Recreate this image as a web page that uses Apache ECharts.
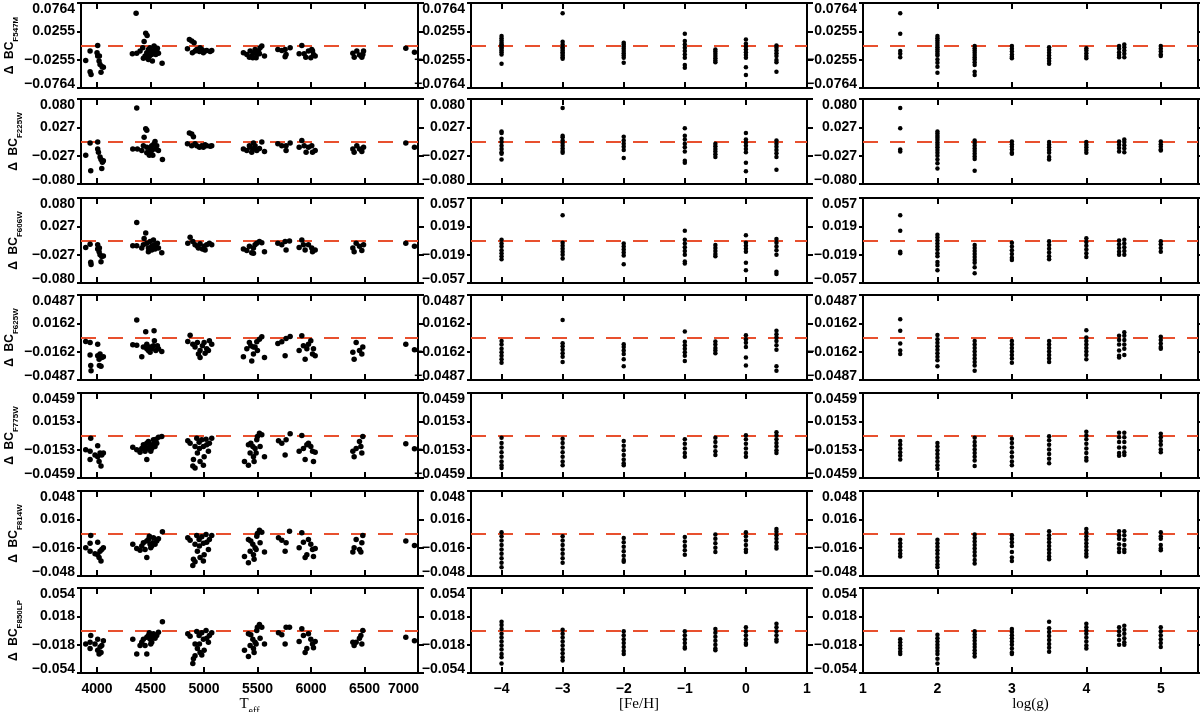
<!DOCTYPE html>
<html>
<head>
<meta charset="utf-8">
<title>Delta BC residuals</title>
<script src="https://cdn.jsdelivr.net/npm/echarts@6.0.0/dist/echarts.min.js"></script>
<style>
html, body { margin: 0; padding: 0; background: #fff; }
#chart { width: 1200px; height: 712px; }
</style>
</head>
<body>
<div id="chart"></div>
<script>
// filters, one row each
var filters = ['F547M', 'F225W', 'F606W', 'F625W', 'F775W', 'F814W', 'F850LP'];

// tick values of the three x axes
var teffTicks = [4000, 4500, 5000, 5500, 6000, 6500, 7000];
var fehTicks = [-4, -3, -2, -1, 0, 1];
var loggTicks = [1, 2, 3, 4, 5];
var teffRange = [3850, 7000];
var fehRange = [-4.5, 1];
var loggRange = [1, 5.5];

// y range (+/-) of each row, and digits of its tick labels
var yMaxTeff = [0.0764, 0.080, 0.080, 0.0487, 0.0459, 0.048, 0.054];
var yMaxOther = [0.0764, 0.080, 0.057, 0.0487, 0.0459, 0.048, 0.054];
var yDigits = [4, 3, 3, 4, 4, 3, 3];

// [Teff, delta BC] per filter
var teffF547M = [[3894,-0.027],[3935,-0.010],[3935,-0.047],[3944,-0.052],[4006,0.0],[4000,-0.013],[4006,-0.019],[4019,-0.028],[4028,-0.034],[4047,-0.038],[4037,-0.048],[4059,-0.039],[4022,-0.019],
	[4365,0.058],[4330,-0.015],[4371,-0.014],[4455,0.022],[4468,0.018],[4440,0.007],[4427,-0.004],[4402,-0.010],[4449,-0.019],[4465,-0.013],[4480,-0.007],[4496,-0.004],[4511,-0.016],[4527,-0.010],[4542,-0.004],[4558,-0.010],[4574,-0.014],[4517,-0.028],[4480,-0.025],[4433,-0.023],[4608,-0.032],[4533,-0.001],[4505,-0.010],[4490,-0.019],[4465,-0.022],[4549,-0.016],[4564,-0.005],
	[4863,0.011],[4885,0.008],[4907,0.005],[4845,-0.006],[4891,-0.013],[4932,-0.007],[4957,-0.011],[4979,-0.007],[4994,-0.013],[5025,-0.009],[5057,-0.011],[5072,-0.009],[4963,-0.004],[4917,-0.010],[5010,-0.010],
	[5368,-0.013],[5400,-0.016],[5431,-0.010],[5446,-0.019],[5462,-0.013],[5477,-0.007],[5493,-0.016],[5509,-0.010],[5524,-0.004],[5540,-0.001],[5565,-0.019],[5456,-0.022],[5424,-0.021],[5487,-0.022],[5518,-0.015],
	[5690,-0.007],[5727,-0.009],[5758,-0.007],[5767,-0.016],[5758,-0.020],[5805,-0.004],[5914,0.0],[5889,-0.015],[5936,-0.015],[5951,-0.021],[5976,-0.010],[6007,-0.007],[5998,-0.022],[6023,-0.016],[6039,-0.019],[6014,-0.010],
	[6391,-0.014],[6404,-0.021],[6428,-0.010],[6453,-0.017],[6475,-0.021],[6491,-0.010],[6484,-0.016],
	[6886,-0.005],[6967,-0.012]];
var teffF225W = [[3894,-0.026],[3935,-0.003],[3941,-0.055],[4006,-0.001],[4006,-0.014],[4013,-0.020],[4028,-0.029],[4037,-0.034],[4050,-0.039],[4044,-0.051],[4059,-0.036],
	[4371,0.063],[4455,0.024],[4465,0.021],[4440,0.008],[4334,-0.014],[4377,-0.014],[4418,-0.017],[4433,-0.008],[4465,-0.011],[4480,-0.020],[4496,-0.014],[4511,-0.008],[4521,-0.026],[4533,-0.004],[4546,-0.014],[4558,-0.008],[4574,-0.017],[4465,-0.021],[4611,-0.034],[4489,-0.026],[4542,0.0],[4511,-0.017],
	[4863,0.016],[4885,0.014],[4901,0.009],[4845,-0.004],[4885,-0.008],[4932,-0.008],[4957,-0.011],[4979,-0.008],[4994,-0.011],[5025,-0.008],[5057,-0.009],[5072,-0.008],[4916,-0.004],[5010,-0.006],
	[5368,-0.014],[5400,-0.017],[5431,-0.011],[5446,-0.020],[5462,-0.014],[5477,-0.008],[5493,-0.017],[5518,-0.013],[5540,-0.001],[5565,-0.019],[5424,-0.008],[5462,-0.003],
	[5690,-0.004],[5727,-0.008],[5767,-0.008],[5767,-0.017],[5805,-0.003],[5914,0.002],[5889,-0.011],[5936,-0.008],[5954,-0.020],[5976,-0.011],[6007,-0.008],[6014,-0.020],[6039,-0.017],
	[6391,-0.014],[6403,-0.020],[6428,-0.008],[6453,-0.014],[6475,-0.019],[6491,-0.011],
	[6886,-0.003],[6967,-0.011]];
var teffF606W = [[3894,-0.013],[3935,-0.007],[3941,-0.041],[3944,-0.045],[4006,-0.008],[4006,-0.016],[4019,-0.021],[4028,-0.027],[4044,-0.030],[4037,-0.040],[4059,-0.029],[4022,-0.014],
	[4371,0.034],[4455,0.014],[4440,0.004],[4334,-0.010],[4371,-0.010],[4418,-0.014],[4433,-0.008],[4465,-0.005],[4480,-0.014],[4496,-0.002],[4511,-0.011],[4527,0.001],[4536,-0.008],[4552,-0.011],[4564,-0.005],[4574,-0.014],[4605,-0.023],[4480,-0.021],[4511,-0.018],[4542,-0.016],
	[4870,0.006],[4848,-0.005],[4895,-0.002],[4916,-0.008],[4938,-0.011],[4963,-0.006],[4985,-0.016],[5001,-0.011],[5025,-0.008],[5050,-0.005],[5072,-0.008],[4948,-0.014],[5010,-0.018],
	[5368,-0.016],[5400,-0.019],[5424,-0.011],[5446,-0.023],[5462,-0.014],[5477,-0.008],[5493,-0.005],[5518,-0.002],[5540,-0.004],[5565,-0.021],[5462,-0.024],
	[5690,-0.005],[5727,-0.008],[5758,-0.002],[5767,-0.018],[5799,-0.001],[5914,0.001],[5889,-0.013],[5929,-0.008],[5945,-0.018],[5976,-0.008],[6007,-0.014],[6014,-0.021],[6039,-0.018],
	[6391,-0.014],[6403,-0.021],[6422,-0.005],[6453,-0.011],[6475,-0.019],[6491,-0.008],
	[6886,-0.005],[6967,-0.011]];
var teffF625W = [[3894,-0.0046],[3935,-0.0057],[3941,-0.032],[3944,-0.038],[3935,-0.020],[4006,-0.0076],[4006,-0.021],[4019,-0.025],[4028,-0.019],[4044,-0.023],[4037,-0.033],[4059,-0.022],[4022,-0.032],
	[4371,0.020],[4455,0.0065],[4533,0.0076],[4334,-0.0084],[4371,-0.0088],[4418,-0.022],[4433,-0.011],[4465,-0.0076],[4480,-0.015],[4496,-0.011],[4511,-0.013],[4527,-0.0095],[4536,-0.0038],[4549,-0.015],[4564,-0.0095],[4574,-0.013],[4605,-0.016],[4496,-0.017],[4465,-0.013],
	[4870,0.0027],[4848,-0.0046],[4895,-0.0076],[4916,-0.011],[4938,-0.0057],[4963,-0.015],[4963,-0.023],[4985,-0.0095],[5001,-0.0057],[5025,-0.013],[5050,-0.0038],[5072,-0.0076],[4948,-0.019],[5010,-0.018],[5041,-0.015],
	[5368,-0.022],[5400,-0.013],[5424,-0.0057],[5446,-0.027],[5462,-0.019],[5477,-0.011],[5493,-0.005],[5518,-0.0019],[5540,0.0008],[5565,-0.023],[5462,-0.011],[5499,-0.015],[5437,-0.0095],
	[5690,-0.0069],[5727,-0.005],[5758,-0.021],[5767,-0.0011],[5805,0.0011],[5914,0.0019],[5889,-0.015],[5929,-0.0095],[5945,-0.025],[5961,-0.013],[5976,-0.0076],[5998,-0.0038],[6014,-0.019],[6023,-0.013],[6039,-0.021],
	[6391,-0.017],[6403,-0.025],[6422,-0.0057],[6453,-0.015],[6475,-0.019],[6484,-0.011],
	[6886,-0.0076],[6967,-0.014]];
var teffF775W = [[3894,-0.0155],[3935,-0.017],[3941,-0.0029],[3935,-0.026],[4006,-0.011],[4006,-0.023],[4019,-0.028],[4028,-0.019],[4044,-0.021],[4037,-0.033],[4059,-0.019],[3981,-0.021],
	[4334,-0.0126],[4371,-0.0155],[4402,-0.018],[4418,-0.014],[4433,-0.010],[4449,-0.012],[4465,-0.026],[4465,-0.0083],[4480,-0.0065],[4496,-0.010],[4511,-0.014],[4527,-0.0047],[4533,-0.0083],[4542,-0.012],[4552,-0.004],[4558,-0.0083],[4574,-0.0018],[4605,-0.0011],[4502,-0.017],[4480,-0.014],[4449,-0.017],[4521,-0.010],
	[4848,-0.0058],[4870,-0.0083],[4895,-0.033],[4901,-0.026],[4916,-0.012],[4932,-0.0029],[4938,-0.019],[4954,-0.0072],[4963,-0.028],[4979,-0.0047],[4994,-0.012],[5001,-0.023],[5019,-0.004],[5025,-0.010],[5050,-0.0083],[5072,-0.0029],[5041,-0.017],[4957,-0.014],[4916,-0.035],[4994,-0.032],
	[5378,-0.028],[5415,-0.032],[5431,-0.019],[5437,-0.0083],[5456,-0.012],[5462,-0.023],[5477,-0.014],[5493,-0.0047],[5499,-0.0011],[5518,0.0025],[5540,0.0007],[5565,-0.023],[5468,-0.028],[5415,-0.010],[5487,-0.019],[5524,-0.012],
	[5696,-0.0058],[5727,-0.0083],[5758,-0.021],[5767,-0.0047],[5805,0.0018],[5914,0.0],[5889,-0.017],[5929,-0.014],[5945,-0.026],[5961,-0.010],[5976,-0.0083],[5998,-0.012],[6014,-0.017],[6023,-0.028],[6039,-0.018],
	[6391,-0.017],[6403,-0.023],[6422,-0.014],[6453,-0.0065],[6475,-0.019],[6484,-0.0011],[6466,-0.012],
	[6886,-0.009],[6967,-0.0144]];
var teffF814W = [[3894,-0.016],[3935,-0.020],[3941,-0.0023],[3935,-0.011],[4006,-0.0098],[4006,-0.024],[4019,-0.027],[4028,-0.020],[4044,-0.018],[4037,-0.031],[4059,-0.016],[3981,-0.023],
	[4334,-0.012],[4371,-0.017],[4402,-0.019],[4418,-0.014],[4433,-0.0105],[4465,-0.027],[4465,-0.0086],[4480,-0.0068],[4496,-0.012],[4511,-0.014],[4527,-0.0049],[4542,-0.012],[4558,-0.0086],[4574,-0.006],[4611,0.0019],[4502,-0.016],[4449,-0.018],[4521,-0.0105],[4489,-0.003],
	[4848,-0.0049],[4870,-0.0075],[4895,-0.036],[4901,-0.029],[4916,-0.012],[4932,-0.0023],[4938,-0.020],[4954,-0.0068],[4963,-0.027],[4979,-0.0038],[4994,-0.011],[5001,-0.024],[5019,-0.0011],[5025,-0.0098],[5050,-0.0068],[5072,-0.0023],[5041,-0.018],[4957,-0.014],[4916,-0.032],[4994,-0.031],
	[5378,-0.026],[5415,-0.033],[5431,-0.020],[5437,-0.0086],[5456,-0.012],[5462,-0.024],[5477,-0.016],[5493,-0.003],[5499,0.0],[5518,0.0038],[5540,0.0015],[5565,-0.021],[5468,-0.029],[5415,-0.0068],[5487,-0.018],[5524,-0.0105],
	[5696,-0.0049],[5727,-0.0075],[5758,-0.020],[5767,-0.0105],[5799,0.0026],[5914,0.0008],[5889,-0.016],[5929,-0.0098],[5945,-0.027],[5961,-0.024],[5976,-0.0068],[5998,-0.012],[6014,-0.018],[6023,-0.026],[6039,-0.017],
	[6391,-0.021],[6403,-0.016],[6422,-0.0068],[6453,-0.018],[6475,-0.0105],[6484,-0.0023],[6466,-0.021],
	[6886,-0.0086],[6967,-0.0135]];
var teffF850LP = [[3894,-0.017],[3935,-0.023],[3941,-0.0064],[3935,-0.015],[4006,-0.011],[4006,-0.025],[4019,-0.030],[4028,-0.021],[4044,-0.019],[4037,-0.028],[4059,-0.013],[3981,-0.017],
	[4334,-0.011],[4371,-0.030],[4402,-0.019],[4418,-0.015],[4433,-0.011],[4465,-0.030],[4465,-0.0085],[4480,-0.0064],[4496,-0.011],[4511,-0.015],[4527,-0.0042],[4542,-0.0098],[4558,-0.0064],[4574,-0.0021],[4611,0.011],[4502,-0.017],[4449,-0.019],[4521,-0.0085],[4489,-0.003],
	[4848,-0.0042],[4870,-0.0072],[4895,-0.042],[4901,-0.036],[4916,-0.017],[4932,-0.0013],[4938,-0.023],[4954,-0.0064],[4963,-0.028],[4979,-0.003],[4994,-0.011],[5001,-0.025],[5019,0.0],[5025,-0.0098],[5050,-0.0064],[5072,-0.003],[5041,-0.015],[4957,-0.017],[4916,-0.032],[4979,-0.031],
	[5378,-0.025],[5415,-0.033],[5431,-0.019],[5437,-0.0055],[5456,-0.011],[5462,-0.023],[5477,-0.015],[5493,0.0],[5499,0.0042],[5518,0.0076],[5540,0.0042],[5565,-0.017],[5468,-0.028],[5415,-0.0042],[5487,-0.017],[5524,-0.0098],
	[5696,-0.003],[5727,-0.0055],[5758,-0.017],[5767,0.0042],[5799,0.0042],[5914,0.0021],[5889,-0.014],[5929,-0.0064],[5945,-0.028],[5961,-0.023],[5976,-0.0042],[5998,-0.011],[6014,-0.017],[6023,-0.022],[6039,-0.014],
	[6391,-0.015],[6403,-0.019],[6422,-0.015],[6453,-0.0098],[6475,-0.017],[6484,0.0],[6466,-0.0064],
	[6886,-0.0085],[6967,-0.013]];

// [Fe/H] grid, delta BC values at each grid point
var fehGrid = [-4, -3, -2, -1, -0.5, 0, 0.5];
var fehF547M = [[0.017,0.013,0.009,0.005,0.002,0,-0.003,-0.006,-0.009,-0.012,-0.016,-0.033],
	[0.058,0.0066,0.002,-0.003,-0.006,-0.009,-0.012,-0.015,-0.018,-0.021,-0.024],
	[0.005,0.002,-0.002,-0.006,-0.010,-0.014,-0.018,-0.022,-0.031],
	[0.021,0.008,0.002,-0.004,-0.010,-0.016,-0.022,-0.035,-0.040],
	[-0.007,-0.011,-0.015,-0.019,-0.023,-0.027,-0.030],
	[0.011,0.003,-0.002,-0.007,-0.012,-0.017,-0.022,-0.039,-0.053],
	[0.000,-0.004,-0.009,-0.014,-0.019,-0.026,-0.030,-0.047]];
var fehF225W = [[0.019,0.016,0.005,-0.001,-0.008,-0.014,-0.020,-0.023,-0.034],
	[0.063,0.011,0.008,0.002,-0.003,-0.008,-0.013,-0.018,-0.021],
	[0.009,0.002,-0.004,-0.010,-0.016,-0.031],
	[0.025,0.011,0.004,-0.004,-0.011,-0.019,-0.036,-0.040],
	[-0.004,-0.009,-0.014,-0.019,-0.024,-0.029],
	[0.016,0.004,-0.002,-0.008,-0.014,-0.020,-0.040,-0.056],
	[0.002,-0.004,-0.010,-0.016,-0.022,-0.029,-0.053]];
var fehF606W = [[0.001,-0.004,-0.008,-0.013,-0.017,-0.021,-0.025],
	[0.034,-0.003,-0.007,-0.011,-0.015,-0.019,-0.024],
	[-0.004,-0.008,-0.012,-0.016,-0.020,-0.032],
	[0.013,0.001,-0.004,-0.009,-0.014,-0.019,-0.028,-0.031],
	[-0.006,-0.010,-0.014,-0.018,-0.021],
	[0.007,-0.003,-0.007,-0.011,-0.015,-0.030,-0.040],
	[0.002,-0.003,-0.008,-0.013,-0.019,-0.042,-0.045]];
var fehF625W = [[-0.004,-0.008,-0.013,-0.017,-0.021,-0.025,-0.029],
	[0.020,-0.0065,-0.010,-0.014,-0.018,-0.022,-0.028],
	[-0.0076,-0.011,-0.015,-0.019,-0.025,-0.033],
	[0.0069,-0.005,-0.009,-0.013,-0.017,-0.021,-0.027],
	[-0.0046,-0.008,-0.012,-0.015,-0.018],
	[0.0027,-0.002,-0.006,-0.011,-0.023,-0.032],
	[0.0076,0.0038,0.000,-0.004,-0.009,-0.014,-0.033,-0.038]];
var fehF775W = [[-0.0025,-0.008,-0.013,-0.018,-0.023,-0.028,-0.032,-0.035],
	[-0.0036,-0.008,-0.013,-0.018,-0.023,-0.028,-0.032],
	[-0.006,-0.011,-0.016,-0.021,-0.026,-0.030,-0.032],
	[-0.004,-0.009,-0.014,-0.019,-0.023],
	[-0.0025,-0.007,-0.012,-0.017,-0.021],
	[0.0004,-0.004,-0.009,-0.014,-0.019,-0.023],
	[0.0036,0.0,-0.004,-0.008,-0.012,-0.016,-0.019]];
var fehF814W = [[0.0015,-0.003,-0.008,-0.013,-0.018,-0.023,-0.028,-0.033,-0.038],
	[-0.003,-0.008,-0.013,-0.018,-0.023,-0.028,-0.033],
	[-0.005,-0.010,-0.015,-0.020,-0.025,-0.030,-0.032],
	[-0.004,-0.009,-0.014,-0.019,-0.024],
	[-0.001,-0.006,-0.011,-0.016,-0.021],
	[0.0015,-0.003,-0.008,-0.013,-0.018,-0.021],
	[0.005,0.002,-0.002,-0.006,-0.010,-0.014,-0.017]];
var fehF850LP = [[0.011,0.007,0.002,-0.004,-0.009,-0.014,-0.019,-0.024,-0.030,-0.034,-0.042],
	[0.001,-0.004,-0.009,-0.014,-0.019,-0.024,-0.029,-0.034,-0.038],
	[-0.001,-0.006,-0.011,-0.016,-0.021,-0.026,-0.030],
	[-0.001,-0.006,-0.011,-0.016,-0.021,-0.023],
	[0.002,-0.003,-0.008,-0.013,-0.018,-0.023,-0.025],
	[0.004,-0.001,-0.006,-0.011,-0.016,-0.018],
	[0.0085,0.004,-0.001,-0.006,-0.011,-0.014]];

// log(g) grid, delta BC values at each grid point
var loggGrid = [1.5, 2, 2.5, 3, 3.5, 4, 4.44, 4.51, 5];
var loggF547M = [[0.058,0.021,-0.010,-0.015,-0.021],
	[0.017,0.013,0.009,0.005,0.001,-0.003,-0.007,-0.011,-0.015,-0.018,-0.025,-0.031,-0.038,-0.049],
	[-0.001,-0.005,-0.009,-0.013,-0.017,-0.021,-0.025,-0.030,-0.035,-0.047,-0.053],
	[-0.001,-0.006,-0.011,-0.016,-0.020,-0.023],
	[-0.003,-0.008,-0.013,-0.018,-0.023,-0.028,-0.033],
	[-0.005,-0.009,-0.014,-0.019,-0.023],
	[-0.001,-0.006,-0.012,-0.017,-0.021],
	[0.002,-0.003,-0.009,-0.015,-0.021],
	[-0.001,-0.006,-0.011,-0.016,-0.019]];
var loggF225W = [[0.063,0.025,-0.015,-0.019],
	[0.019,0.015,0.011,0.007,0.003,-0.002,-0.006,-0.011,-0.016,-0.021,-0.027,-0.034,-0.041,-0.051],
	[0.002,-0.003,-0.008,-0.013,-0.018,-0.023,-0.028,-0.033,-0.055],
	[0.0,-0.005,-0.010,-0.015,-0.021,-0.023],
	[-0.001,-0.006,-0.011,-0.016,-0.021,-0.029,-0.034],
	[-0.001,-0.006,-0.011,-0.016,-0.021],
	[0.0,-0.006,-0.012,-0.019],
	[0.004,-0.001,-0.007,-0.013,-0.020],
	[0.0,-0.005,-0.010,-0.015,-0.017]];
var loggF606W = [[0.034,0.013,-0.015,-0.017],
	[0.0076,0.004,0.0,-0.004,-0.008,-0.012,-0.017,-0.021,-0.029,-0.033,-0.040],
	[-0.006,-0.010,-0.014,-0.018,-0.022,-0.026,-0.030,-0.036,-0.044],
	[-0.003,-0.008,-0.013,-0.018,-0.023,-0.026],
	[-0.001,-0.006,-0.011,-0.016,-0.021,-0.025],
	[0.003,-0.002,-0.007,-0.012,-0.017,-0.022],
	[0.0,-0.005,-0.010,-0.015,-0.019],
	[0.001,-0.004,-0.009,-0.014,-0.019],
	[-0.001,-0.005,-0.010,-0.015]];
var loggF625W = [[0.021,0.0076,-0.0069,-0.015,-0.019],
	[0.003,-0.002,-0.006,-0.010,-0.014,-0.018,-0.022,-0.026,-0.033],
	[-0.004,-0.008,-0.012,-0.016,-0.020,-0.024,-0.028,-0.032,-0.038],
	[-0.004,-0.008,-0.012,-0.016,-0.020,-0.024,-0.029],
	[-0.004,-0.008,-0.012,-0.016,-0.020,-0.024,-0.028],
	[0.0084,0.0,-0.004,-0.008,-0.012,-0.016,-0.020,-0.025],
	[0.002,-0.003,-0.008,-0.015,-0.021,-0.023],
	[0.006,0.002,-0.003,-0.008,-0.013,-0.020],
	[0.001,-0.003,-0.007,-0.011,-0.013]];
var loggF775W = [[-0.006,-0.010,-0.014,-0.018,-0.022,-0.026],
	[-0.008,-0.012,-0.016,-0.020,-0.024,-0.028,-0.032,-0.036],
	[-0.0025,-0.007,-0.011,-0.015,-0.019,-0.023,-0.027,-0.033],
	[-0.0036,-0.008,-0.013,-0.018,-0.023,-0.028,-0.032],
	[-0.0007,-0.005,-0.010,-0.015,-0.020,-0.025,-0.030],
	[0.004,0.0,-0.004,-0.009,-0.014,-0.019,-0.024,-0.027],
	[0.003,-0.002,-0.007,-0.013,-0.019,-0.022],
	[0.003,-0.002,-0.007,-0.013,-0.018,-0.021],
	[0.002,-0.002,-0.006,-0.010,-0.015,-0.018]];
var loggF814W = [[-0.007,-0.011,-0.015,-0.019,-0.023,-0.026],
	[-0.007,-0.011,-0.015,-0.019,-0.023,-0.027,-0.031,-0.035,-0.038],
	[-0.001,-0.005,-0.009,-0.013,-0.017,-0.021,-0.025,-0.030,-0.034],
	[-0.002,-0.006,-0.010,-0.014,-0.021,-0.027,-0.031],
	[0.0026,-0.002,-0.006,-0.010,-0.014,-0.018,-0.022,-0.026,-0.029],
	[0.005,0.001,-0.003,-0.007,-0.011,-0.015,-0.019,-0.023,-0.026],
	[0.0026,-0.002,-0.006,-0.012,-0.017,-0.021],
	[0.0026,-0.002,-0.007,-0.013,-0.018,-0.021],
	[0.0015,-0.003,-0.006,-0.013,-0.017,-0.019]];
var loggF850LP = [[-0.011,-0.015,-0.019,-0.023,-0.027,-0.030],
	[-0.0055,-0.010,-0.014,-0.018,-0.022,-0.026,-0.030,-0.036,-0.042],
	[-0.001,-0.005,-0.009,-0.013,-0.017,-0.021,-0.025,-0.029,-0.033],
	[0.002,-0.002,-0.006,-0.010,-0.014,-0.018,-0.023,-0.028,-0.030],
	[0.011,0.003,-0.002,-0.007,-0.012,-0.017,-0.022,-0.027],
	[0.0085,0.004,0.0,-0.004,-0.009,-0.014,-0.019,-0.023],
	[0.004,-0.001,-0.006,-0.012,-0.018],
	[0.006,0.001,-0.004,-0.010,-0.015,-0.018],
	[0.004,-0.001,-0.006,-0.011,-0.016,-0.021]];

var teffData = [teffF547M, teffF225W, teffF606W, teffF625W, teffF775W, teffF814W, teffF850LP];
var fehData = [fehF547M, fehF225W, fehF606W, fehF625W, fehF775W, fehF814W, fehF850LP];
var loggData = [loggF547M, loggF225W, loggF606W, loggF625W, loggF775W, loggF814W, loggF850LP];

// panel layout
var colLeft = [81, 471, 863];
var colWidth = [337, 336, 335];
var rowTop = [3, 99, 198, 295, 393, 491, 588];
var rowHeight = 85;

var labelFont = { fontFamily: 'Liberation Sans', fontWeight: 'bold', fontSize: 14, color: '#000' };
var nameFont = { fontFamily: 'Liberation Serif', fontSize: 15, color: '#000' };

function fmt(v, d) {
	return (v < 0 ? '\u2212' : '') + Math.abs(v).toFixed(d);
}

function ext(style, more) {
	var o = {};
	for (var k in style) o[k] = style[k];
	for (var k2 in more) o[k2] = more[k2];
	return o;
}

/*
 * 把网格上的竖条数据展开成散点
 */
function stripPoints(grid, lists) {
	var pts = [];
	lists.forEach(function(list, i) {
		list.forEach(function(y) {
			pts.push([grid[i], y]);
		});
	});
	return pts;
}

var grids = [], xAxes = [], yAxes = [], series = [];

for (var r = 0; r < 7; r++) {
	for (var c = 0; c < 3; c++) {
		var gi = grids.length;
		var m = c === 0 ? yMaxTeff[r] : yMaxOther[r];
		var dec = yDigits[r];
		var yTicks = [-m, -m / 3, m / 3, m];
		var xTicks = [teffTicks, fehTicks, loggTicks][c];
		var xRange = [teffRange, fehRange, loggRange][c];
		var pts;
		if (c === 0) pts = teffData[r];
		else if (c === 1) pts = stripPoints(fehGrid, fehData[r]);
		else pts = stripPoints(loggGrid, loggData[r]);

		grids.push({
			left: colLeft[c], top: rowTop[r], width: colWidth[c], height: rowHeight,
			show: true, borderColor: '#000', borderWidth: 2, backgroundColor: 'transparent',
			outerBoundsMode: 'none'
		});

		// 下方 x 轴
		var bottomAxis = {
			gridIndex: gi, type: 'value', position: 'bottom',
			min: xRange[0], max: xRange[1],
			axisLine: { show: false, onZero: false },
			splitLine: { show: false },
			axisTick: { show: true, inside: true, length: 6, customValues: xTicks, lineStyle: { color: '#000', width: 2 } },
			axisLabel: ext(labelFont, {
				show: r === 6, margin: 9, customValues: xTicks,
				formatter: function(v) {
					var s = fmt(v, 0);
					return v === 7000 ? '{rt|' + s + '}' : s;
				},
				rich: { rt: ext(labelFont, { padding: [0, 29, 0, 0] }) }
			})
		};
		if (r === 6) {
			bottomAxis.name = ['{t|T}{s|eff}', '[Fe/H]', 'log(g)'][c];
			bottomAxis.nameLocation = 'middle';
			bottomAxis.nameGap = 21;
			bottomAxis.nameTextStyle = ext(nameFont, {
				rich: {
					t: ext(nameFont, { padding: [0, 0, 4, 0], verticalAlign: 'top' }),
					s: ext(nameFont, { fontSize: 10, verticalAlign: 'bottom' })
				}
			});
		}
		xAxes.push(bottomAxis);
		xAxes.push({
			gridIndex: gi, type: 'value', position: 'top',
			min: xRange[0], max: xRange[1],
			axisLine: { show: false, onZero: false },
			splitLine: { show: false },
			axisTick: { show: true, inside: true, length: 6, customValues: xTicks, lineStyle: { color: '#000', width: 2 } },
			axisLabel: { show: false }
		});

		// 左侧 y 轴
		(function(m, dec) {
			var leftAxis = {
				gridIndex: gi, type: 'value', position: 'left',
				min: -m, max: m,
				axisLine: { show: false, onZero: false },
				splitLine: { show: false },
				axisTick: { show: true, inside: false, length: 4, customValues: yTicks, lineStyle: { color: '#000', width: 2 } },
				axisLabel: ext(labelFont, {
					margin: 6, customValues: yTicks,
					formatter: function(v) {
						var s = fmt(v, dec);
						if (Math.abs(v - m) < 1e-9) return '{hi|' + s + '}';
						if (Math.abs(v + m) < 1e-9) return '{lo|' + s + '}';
						return s;
					},
					rich: {
						hi: ext(labelFont, { padding: [12, 0, 0, 0] }),
						lo: ext(labelFont, { padding: [0, 0, 7, 0] })
					}
				})
			};
			if (c === 0) {
				leftAxis.name = '{d|\u0394  BC}{s|' + filters[r] + '}';
				leftAxis.nameLocation = 'middle';
				leftAxis.nameRotate = 90;
				leftAxis.nameGap = 57;
				leftAxis.nameTextStyle = {
					rich: {
						d: { fontFamily: 'Liberation Sans', fontWeight: 'bold', fontSize: 12, color: '#000', padding: [0, 0, 4, 0], verticalAlign: 'top' },
						s: { fontFamily: 'Liberation Sans', fontWeight: 'bold', fontSize: 8, color: '#000', verticalAlign: 'bottom' }
					}
				};
			}
			yAxes.push(leftAxis);
		})(m, dec);
		yAxes.push({
			gridIndex: gi, type: 'value', position: 'right',
			min: -m, max: m,
			axisLine: { show: false, onZero: false },
			splitLine: { show: false },
			axisTick: { show: true, inside: false, length: 6, customValues: yTicks, lineStyle: { color: '#000', width: 2 } },
			axisLabel: { show: false }
		});

		series.push({
			type: 'scatter',
			xAxisIndex: 2 * gi, yAxisIndex: 2 * gi,
			data: pts,
			z: 3,
			symbolSize: c === 0 ? 5.5 : 4.5,
			itemStyle: { color: '#000', opacity: 1 },
			silent: true,
			markLine: {
				silent: true, z: 1, symbol: ['none', 'none'],
				label: { show: false },
				lineStyle: { color: '#e8502e', width: 2, type: [15, 12] },
				data: [{ yAxis: 0 }]
			}
		});
	}
}

var myChart = echarts.init(document.getElementById('chart'));
myChart.setOption({
	animation: false,
	backgroundColor: '#fff',
	grid: grids,
	xAxis: xAxes,
	yAxis: yAxes,
	series: series
});
</script>
</body>
</html>
